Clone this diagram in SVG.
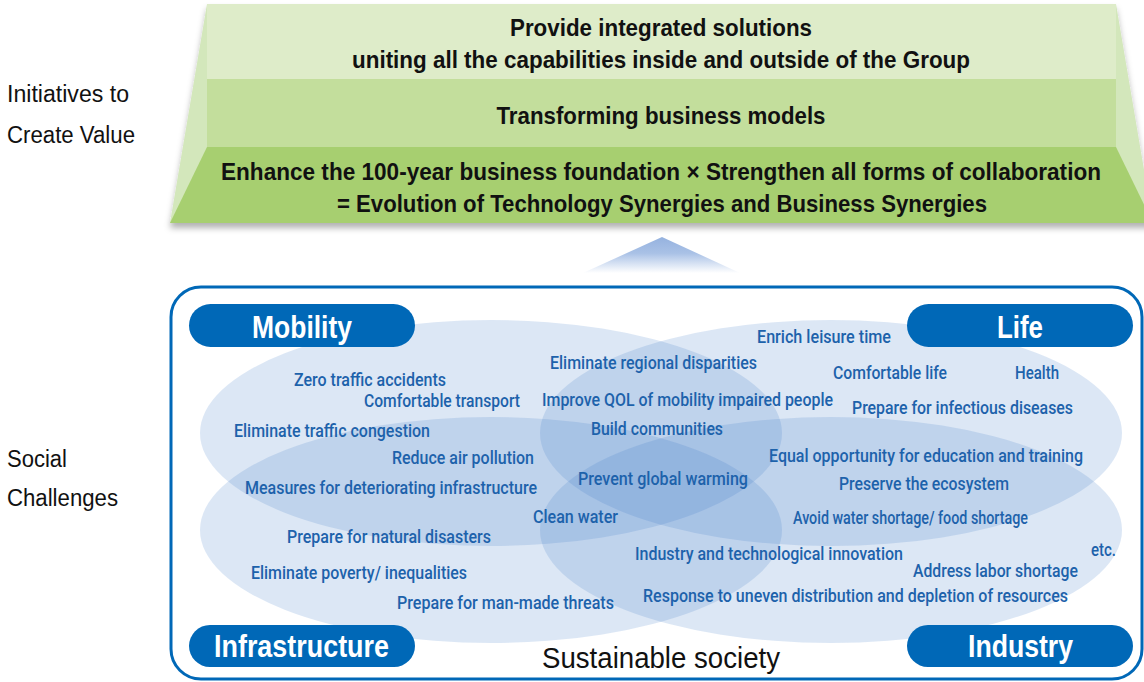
<svg xmlns="http://www.w3.org/2000/svg" width="1144" height="682" viewBox="0 0 1144 682">
<defs>
<style>
.lbl{font-family:"Liberation Sans",Arial,sans-serif;font-size:23px;fill:#111}
.hd{font-family:"Liberation Sans",Arial,sans-serif;font-size:24px;font-weight:bold;fill:#111}
.pt{font-family:"Liberation Sans",Arial,sans-serif;font-size:32px;font-weight:bold;fill:#fff}
.bt{font-family:Roboto,"Liberation Sans",Arial,sans-serif;font-size:18px;font-weight:500;fill:#1d62ab}
.ell{fill:#3d7cc9;fill-opacity:0.18}
.pill{fill:#0068b7}
</style>
<filter id="sh" x="-5%" y="-10%" width="110%" height="130%">
<feDropShadow dx="0" dy="5" stdDeviation="3" flood-color="#000" flood-opacity="0.3"/>
</filter>
<linearGradient id="arr" x1="0" y1="0" x2="0" y2="1">
<stop offset="0" stop-color="#95b2df"/>
<stop offset="0.45" stop-color="#a9c1e6"/>
<stop offset="1" stop-color="#ffffff"/>
</linearGradient>
</defs>
<rect width="1144" height="682" fill="#fff"/>

<g id="left-labels">
<text class="lbl" x="7" y="102" textLength="122" lengthAdjust="spacingAndGlyphs">Initiatives to</text>
<text class="lbl" x="7" y="143" textLength="128" lengthAdjust="spacingAndGlyphs">Create Value</text>
<text class="lbl" x="7" y="467" textLength="60" lengthAdjust="spacingAndGlyphs">Social</text>
<text class="lbl" x="7" y="506" textLength="111" lengthAdjust="spacingAndGlyphs">Challenges</text>
</g>

<g id="initiatives">
<polygon points="207,4 1116,4 1153,223 170,223" fill="#d3e7bb" filter="url(#sh)"/>
<rect x="207" y="4" width="909" height="75" fill="#deecc9"/>
<rect x="207" y="79" width="909" height="68" fill="#c3de9c"/>
<polygon points="207,147 1116,147 1153,223 170,223" fill="#a7cf70"/>
<text class="hd" x="661" y="36" text-anchor="middle" textLength="302" lengthAdjust="spacingAndGlyphs">Provide integrated solutions</text>
<text class="hd" x="661" y="68" text-anchor="middle" textLength="618" lengthAdjust="spacingAndGlyphs">uniting all the capabilities inside and outside of the Group</text>
<text class="hd" x="661" y="124" text-anchor="middle" textLength="329" lengthAdjust="spacingAndGlyphs">Transforming business models</text>
<text class="hd" x="661" y="180" text-anchor="middle" textLength="880" lengthAdjust="spacingAndGlyphs">Enhance the 100-year business foundation × Strengthen all forms of collaboration</text>
<text class="hd" x="662" y="212" text-anchor="middle" textLength="650" lengthAdjust="spacingAndGlyphs">= Evolution of Technology Synergies and Business Synergies</text>
</g>

<g id="connectors">
<polygon points="662,237 740,273 583,273" fill="url(#arr)"/>
</g>

<g id="social-challenges">
<rect x="171" y="287" width="971" height="392" rx="30" ry="30" fill="#fff" stroke="#0068b7" stroke-width="3"/>
<ellipse class="ell" cx="491" cy="433" rx="291" ry="113"/>
<ellipse class="ell" cx="831" cy="433" rx="291" ry="113"/>
<ellipse class="ell" cx="491" cy="530" rx="291" ry="113"/>
<ellipse class="ell" cx="831" cy="530" rx="291" ry="113"/>
</g>

<g id="mobility">
<rect class="pill" x="189" y="304" width="226" height="43" rx="21.5"/>
<text class="pt" x="302" y="338" text-anchor="middle" textLength="100" lengthAdjust="spacingAndGlyphs">Mobility</text>
</g>
<g id="life">
<rect class="pill" x="907" y="304" width="226" height="43" rx="21.5"/>
<text class="pt" x="1020" y="338" text-anchor="middle" textLength="46" lengthAdjust="spacingAndGlyphs">Life</text>
</g>
<g id="infrastructure">
<rect class="pill" x="189" y="625" width="226" height="42" rx="21"/>
<text class="pt" x="301.5" y="657" text-anchor="middle" textLength="175" lengthAdjust="spacingAndGlyphs">Infrastructure</text>
</g>
<g id="industry">
<rect class="pill" x="907" y="625" width="226" height="42" rx="21"/>
<text class="pt" x="1020.5" y="657" text-anchor="middle" textLength="105" lengthAdjust="spacingAndGlyphs">Industry</text>
</g>

<g id="challenge-texts">
<text class="bt" x="757" y="343" textLength="134" lengthAdjust="spacingAndGlyphs">Enrich leisure time</text>
<text class="bt" x="550" y="369" textLength="207" lengthAdjust="spacingAndGlyphs">Eliminate regional disparities</text>
<text class="bt" x="833" y="379" textLength="114" lengthAdjust="spacingAndGlyphs">Comfortable life</text>
<text class="bt" x="1015" y="379" textLength="44" lengthAdjust="spacingAndGlyphs">Health</text>
<text class="bt" x="294" y="386" textLength="152" lengthAdjust="spacingAndGlyphs">Zero traffic accidents</text>
<text class="bt" x="364" y="407" textLength="156" lengthAdjust="spacingAndGlyphs">Comfortable transport</text>
<text class="bt" x="542" y="406" textLength="291" lengthAdjust="spacingAndGlyphs">Improve QOL of mobility impaired people</text>
<text class="bt" x="852" y="414" textLength="221" lengthAdjust="spacingAndGlyphs">Prepare for infectious diseases</text>
<text class="bt" x="234" y="437" textLength="196" lengthAdjust="spacingAndGlyphs">Eliminate traffic congestion</text>
<text class="bt" x="591" y="435" textLength="132" lengthAdjust="spacingAndGlyphs">Build communities</text>
<text class="bt" x="392" y="464" textLength="142" lengthAdjust="spacingAndGlyphs">Reduce air pollution</text>
<text class="bt" x="769" y="462" textLength="314" lengthAdjust="spacingAndGlyphs">Equal opportunity for education and training</text>
<text class="bt" x="245" y="494" textLength="292" lengthAdjust="spacingAndGlyphs">Measures for deteriorating infrastructure</text>
<text class="bt" x="578" y="485" textLength="170" lengthAdjust="spacingAndGlyphs">Prevent global warming</text>
<text class="bt" x="839" y="490" textLength="170" lengthAdjust="spacingAndGlyphs">Preserve the ecosystem</text>
<text class="bt" x="533" y="523" textLength="85" lengthAdjust="spacingAndGlyphs">Clean water</text>
<text class="bt" x="793" y="524" textLength="235" lengthAdjust="spacingAndGlyphs">Avoid water shortage/ food shortage</text>
<text class="bt" x="287" y="543" textLength="204" lengthAdjust="spacingAndGlyphs">Prepare for natural disasters</text>
<text class="bt" x="635" y="560" textLength="268" lengthAdjust="spacingAndGlyphs">Industry and technological innovation</text>
<text class="bt" x="1091" y="556" textLength="25" lengthAdjust="spacingAndGlyphs">etc.</text>
<text class="bt" x="913" y="577" textLength="165" lengthAdjust="spacingAndGlyphs">Address labor shortage</text>
<text class="bt" x="251" y="579" textLength="216" lengthAdjust="spacingAndGlyphs">Eliminate poverty/ inequalities</text>
<text class="bt" x="397" y="609" textLength="217" lengthAdjust="spacingAndGlyphs">Prepare for man-made threats</text>
<text class="bt" x="643" y="602" textLength="425" lengthAdjust="spacingAndGlyphs">Response to uneven distribution and depletion of resources</text>
<text x="542" y="668" textLength="238" lengthAdjust="spacingAndGlyphs" style="font-family:'Liberation Sans',Arial,sans-serif;font-size:29px;fill:#111">Sustainable society</text>
</g>
</svg>
